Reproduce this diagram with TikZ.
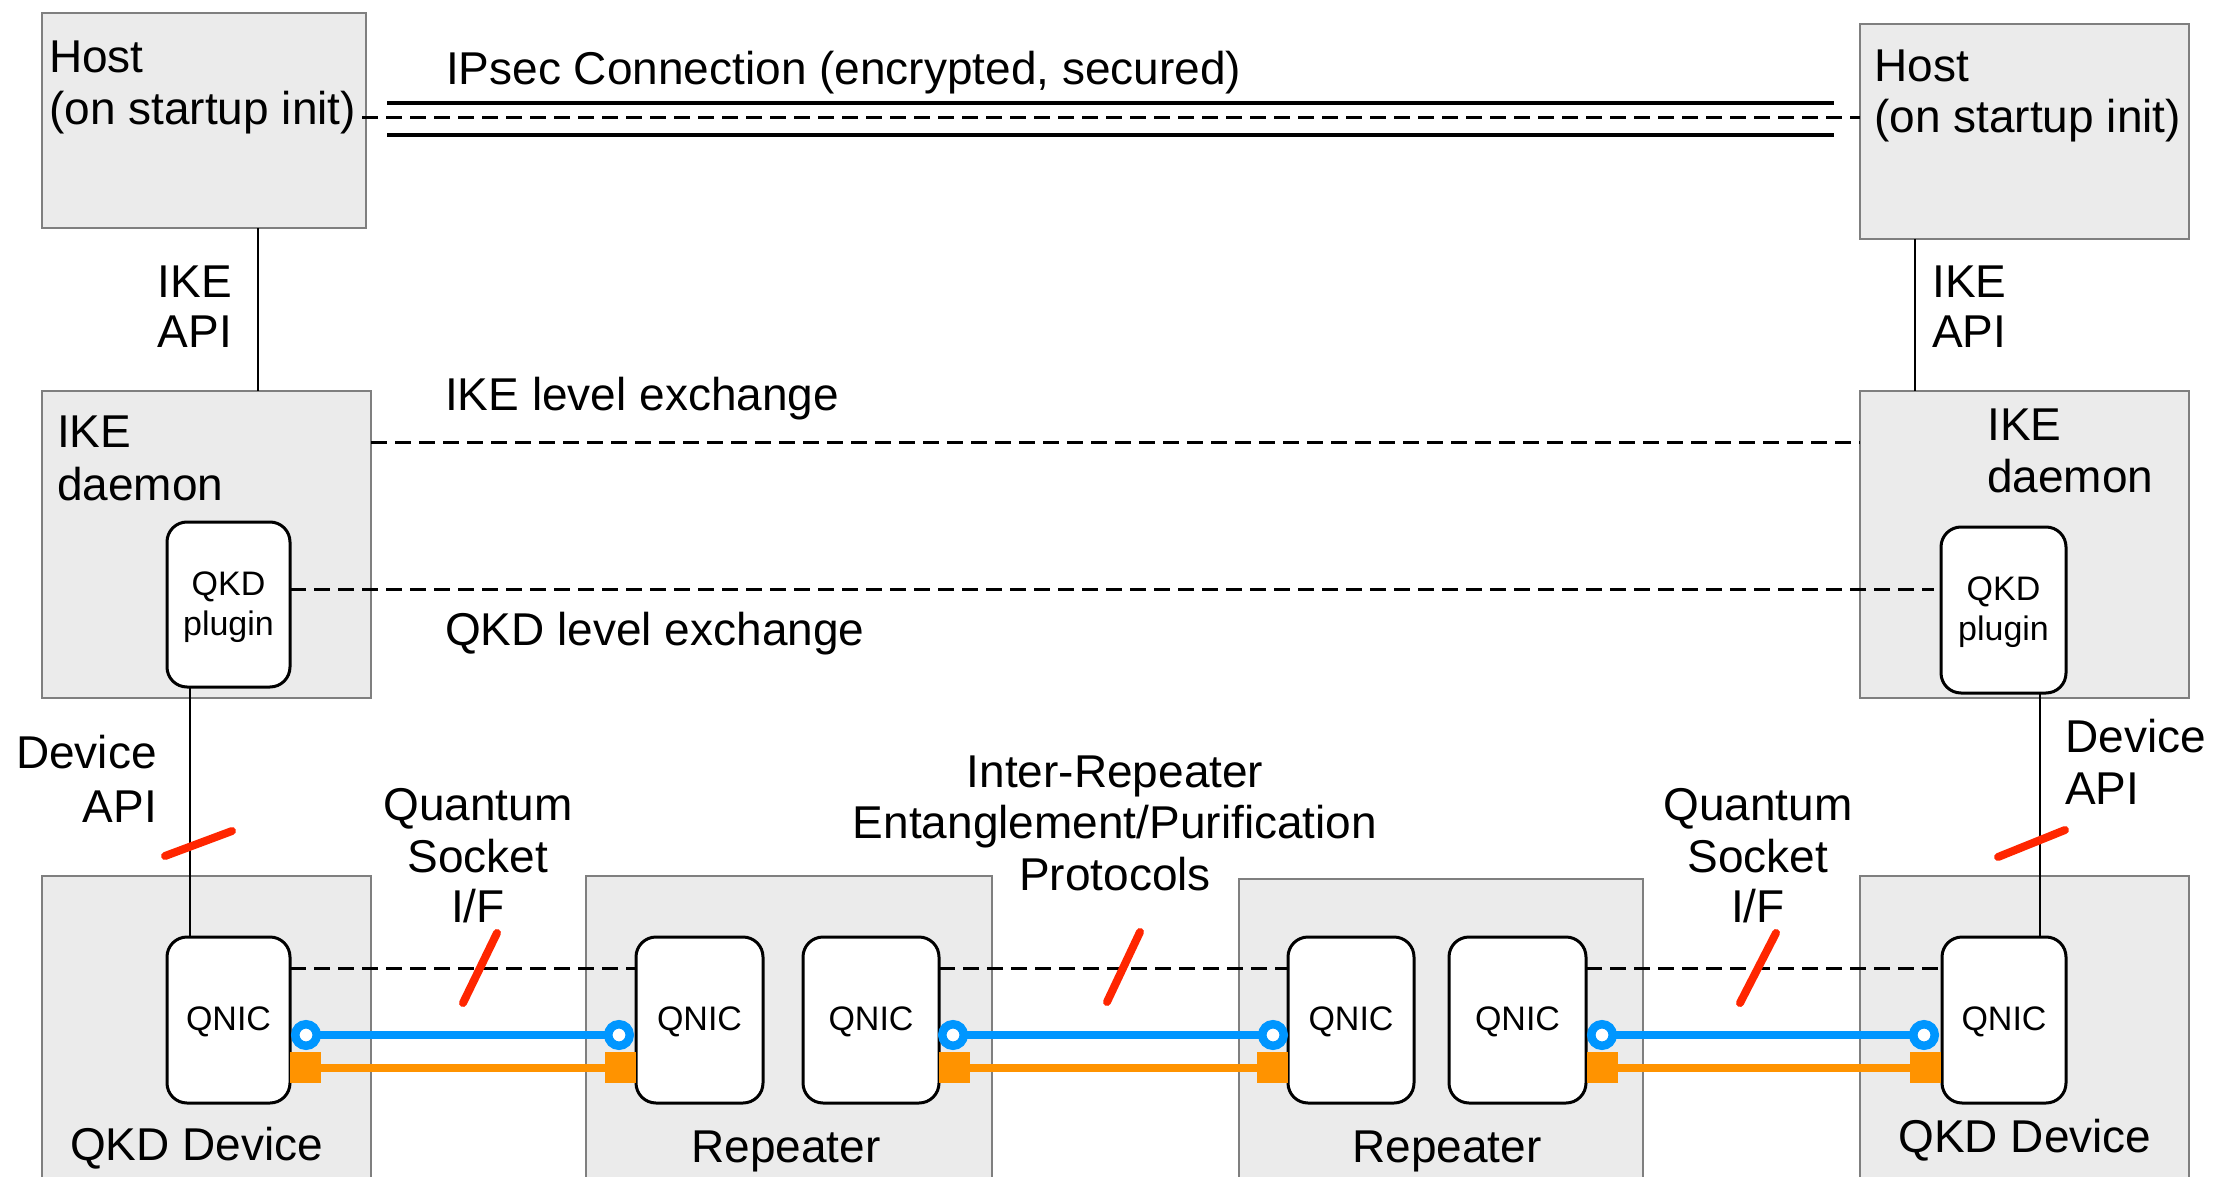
\documentclass[tikz,border=0pt]{standalone}
\usepackage{fontspec}
\setmainfont{Liberation Sans}
\definecolor{boxgray}{HTML}{EBEBEB}
\definecolor{boxline}{HTML}{7F7F7F}
\definecolor{qblue}{HTML}{0096FF}
\definecolor{qorange}{HTML}{FF9300}
\definecolor{qred}{HTML}{FF2600}
\tikzset{
  graybox/.style={draw=boxline, fill=boxgray, line width=1.6pt, anchor=north west, inner sep=0pt, outer sep=0pt},
  rbox/.style={draw=black, fill=white, line width=3pt, rounded corners=20pt, anchor=north west, inner sep=0pt, outer sep=0pt},
  txt/.style={font=\fontsize{46}{52}\selectfont, inner sep=0pt},
  stxt/.style={font=\fontsize{34}{40}\selectfont, inner sep=0pt},
  conn/.style={line width=2.5pt},
  dblline/.style={line width=3.5pt},
  dashline/.style={line width=3pt, dash pattern=on 16pt off 8pt},
  redslash/.style={draw=qred, line width=8pt, line cap=round},
  blueline/.style={draw=qblue, line width=8pt},
  orangeline/.style={draw=qorange, line width=8pt},
  ring/.style={circle, draw=qblue, fill=white, line width=8.5pt, minimum size=21.5pt, inner sep=0pt, outer sep=0pt},
  sq/.style={rectangle, fill=qorange, minimum size=31pt, inner sep=0pt, outer sep=0pt}
}
\begin{document}
\begin{tikzpicture}[x=1pt,y=-1pt]
\useasboundingbox (0,0) rectangle (2228,1177);
\clip (0,0) rectangle (2228,1177);
\fill[white] (0,0) rectangle (2228,1177);

% gray boxes
\node[graybox, minimum width=324pt, minimum height=215pt] (hostL) at (42,13) {};
\node[graybox, minimum width=329pt, minimum height=215pt] (hostR) at (1860,24) {};
\node[graybox, minimum width=329pt, minimum height=307pt] (ikeL) at (42,391) {};
\node[graybox, minimum width=329pt, minimum height=307pt] (ikeR) at (1860,391) {};
\node[graybox, minimum width=329pt, minimum height=330pt] (devL) at (42,876) {};
\node[graybox, minimum width=406pt, minimum height=330pt] (rep1) at (586,876) {};
\node[graybox, minimum width=404pt, minimum height=330pt] (rep2) at (1239,879) {};
\node[graybox, minimum width=329pt, minimum height=330pt] (devR) at (1860,876) {};

% white rounded boxes
\node[rbox, minimum width=123pt, minimum height=165pt] (plugL) at (167,522) {};
\node[rbox, minimum width=125pt, minimum height=166pt] (plugR) at (1941,527) {};
\node[rbox, minimum width=123pt, minimum height=166pt] (qnicL) at (167,937) {};
\node[rbox, minimum width=127pt, minimum height=166pt] (r1a) at (636,937) {};
\node[rbox, minimum width=136pt, minimum height=166pt] (r1b) at (803,937) {};
\node[rbox, minimum width=126pt, minimum height=166pt] (r2a) at (1288,937) {};
\node[rbox, minimum width=137pt, minimum height=166pt] (r2b) at (1449,937) {};
\node[rbox, minimum width=124pt, minimum height=166pt] (qnicR) at (1942,937) {};

% helper coordinates
\coordinate (ipsA1) at (387,103);
\coordinate (ipsA2) at (1834,103);
\coordinate (ipsB1) at (387,135);
\coordinate (ipsB2) at (1834,135);
\coordinate (yip) at (0,118);
\coordinate (xa) at (258,0);
\coordinate (xb) at (1915,0);
\coordinate (yike) at (0,442);
\coordinate (yqkd) at (0,589);
\coordinate (qkdEnd) at (1934,589);
\coordinate (xdl) at (190,0);
\coordinate (xdr) at (2040,0);
\coordinate (yq) at (0,968);

% IPsec connection
\draw[dblline] (ipsA1) -- (ipsA2);
\draw[dblline] (ipsB1) -- (ipsB2);
\draw[dashline] ([xshift=-4pt]hostL.east |- yip) -- (hostR.west |- yip);

% IKE API
\draw[conn] (hostL.south -| xa) -- (ikeL.north -| xa);
\draw[conn] (hostR.south -| xb) -- (ikeR.north -| xb);

% exchanges
\draw[dashline] (ikeL.east |- yike) -- (ikeR.west |- yike);
\draw[dashline] (plugL.east |- yqkd) -- (qkdEnd);

% Device API
\draw[conn] (plugL.south -| xdl) -- (qnicL.north -| xdl);
\draw[conn] (plugR.south -| xdr) -- (qnicR.north -| xdr);

% QNIC dashed
\draw[dashline] (qnicL.east |- yq) -- (r1a.west |- yq);
\draw[dashline] (r1b.east |- yq) -- (r2a.west |- yq);
\draw[dashline] (r2b.east |- yq) -- (qnicR.west |- yq);

% rings and squares
\node[ring] (b1) at (306,1035) {};
\node[ring] (b2) at (619,1035) {};
\node[ring] (b3) at (953,1035) {};
\node[ring] (b4) at (1273,1035) {};
\node[ring] (b5) at (1602,1035) {};
\node[ring] (b6) at (1924,1035) {};
\node[sq] (s1) at (305.5,1067.5) {};
\node[sq] (s2) at (620.5,1067.5) {};
\node[sq] (s3) at (954.5,1067.5) {};
\node[sq] (s4) at (1272.5,1067.5) {};
\node[sq] (s5) at (1602,1067.5) {};
\node[sq] (s6) at (1925.5,1067.5) {};
\draw[blueline] (b1) -- (b2);
\draw[blueline] (b3) -- (b4);
\draw[blueline] (b5) -- (b6);
\draw[orangeline] (s1) -- (s2);
\draw[orangeline] (s3) -- (s4);
\draw[orangeline] (s5) -- (s6);

% red slashes
\coordinate (rl1) at (165,856); \coordinate (rl2) at (232,831);
\coordinate (rq1) at (463,1003); \coordinate (rq2) at (497,933);
\coordinate (rm1) at (1107,1002); \coordinate (rm2) at (1140,932);
\coordinate (rs1) at (1740,1003); \coordinate (rs2) at (1776,933);
\coordinate (rr1) at (1998,857); \coordinate (rr2) at (2065,830);
\draw[redslash] (rl1) -- (rl2);
\draw[redslash] (rq1) -- (rq2);
\draw[redslash] (rm1) -- (rm2);
\draw[redslash] (rs1) -- (rs2);
\draw[redslash] (rr1) -- (rr2);

% texts
\node[txt, anchor=base west] (hl1) at (49,73) {Host};
\node[txt, anchor=base west] (hl2) at (49,125) {(on startup init)};
\node[txt, anchor=base west] (hr1) at (1874,82) {Host};
\node[txt, anchor=base west] (hr2) at (1874,133) {(on startup init)};
\node[txt, anchor=base west] (ipst) at (446,85) {IPsec Connection (encrypted, secured)};
\node[txt, anchor=base east] (apil1) at (232,297) {IKE};
\node[txt, anchor=base east] (apil2) at (232,347) {API};
\node[txt, anchor=base west] (apir1) at (1932,297) {IKE};
\node[txt, anchor=base west] (apir2) at (1932,347) {API};
\node[txt, anchor=base west] (ikelt) at (445,410) {IKE level exchange};
\node[txt, anchor=base west] (qkdlt) at (445,645) {QKD level exchange};
\node[txt, anchor=base west] (dl1) at (57,447) {IKE};
\node[txt, anchor=base west] (dl2) at (57,500) {daemon};
\node[txt, anchor=base west] (dr1) at (1987,440) {IKE};
\node[txt, anchor=base west] (dr2) at (1987,492) {daemon};
\node[stxt, anchor=base] (pl1) at (228.5,595) {QKD};
\node[stxt, anchor=base] (pl2) at (228.5,635) {plugin};
\node[stxt, anchor=base] (pr1) at (2003.5,600) {QKD};
\node[stxt, anchor=base] (pr2) at (2003.5,640) {plugin};
\node[txt, anchor=base east] (dal1) at (157,768) {Device};
\node[txt, anchor=base east] (dal2) at (157,822) {API};
\node[txt, anchor=base west] (dar1) at (2065,752) {Device};
\node[txt, anchor=base west] (dar2) at (2065,804) {API};
\node[txt, anchor=base] (qsl1) at (478,820) {Quantum};
\node[txt, anchor=base] (qsl2) at (478,872) {Socket};
\node[txt, anchor=base] (qsl3) at (478,922) {I/F};
\node[txt, anchor=base] (qsr1) at (1758,820) {Quantum};
\node[txt, anchor=base] (qsr2) at (1758,872) {Socket};
\node[txt, anchor=base] (qsr3) at (1758,922) {I/F};
\node[txt, anchor=base] (irp1) at (1115,787) {Inter-Repeater};
\node[txt, anchor=base] (irp2) at (1115,838) {Entanglement/Purification};
\node[txt, anchor=base] (irp3) at (1115,890) {Protocols};
\node[stxt, anchor=base] (tq1) at (228.5,1030) {QNIC};
\node[stxt, anchor=base] (tq2) at (699.5,1030) {QNIC};
\node[stxt, anchor=base] (tq3) at (871,1030) {QNIC};
\node[stxt, anchor=base] (tq4) at (1351,1030) {QNIC};
\node[stxt, anchor=base] (tq5) at (1517.5,1030) {QNIC};
\node[stxt, anchor=base] (tq6) at (2004,1030) {QNIC};
\node[txt, anchor=base west] (tdl) at (70,1160) {QKD Device};
\node[txt, anchor=base] (trp1) at (786,1162) {Repeater};
\node[txt, anchor=base] (trp2) at (1447,1162) {Repeater};
\node[txt, anchor=base] (tdr) at (2025,1152) {QKD Device};
\end{tikzpicture}
\end{document}
